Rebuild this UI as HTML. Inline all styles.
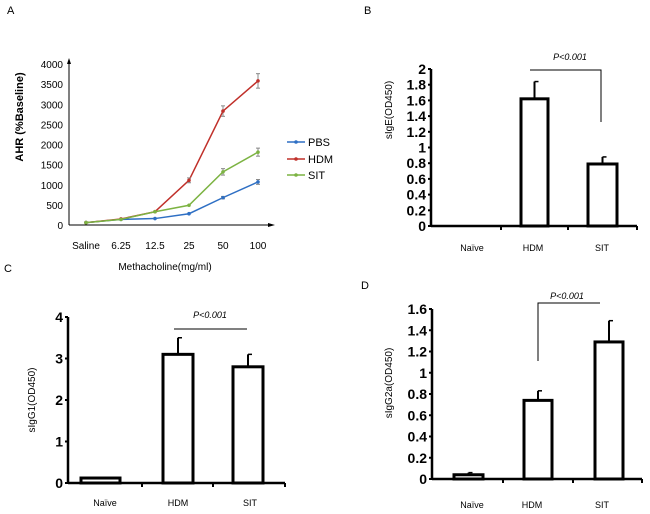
<!DOCTYPE html>
<html><head><meta charset="utf-8"><style>body{margin:0;background:#fff}svg{display:block;font-family:"Liberation Sans",sans-serif}</style></head>
<body>
<svg id="s" width="650" height="514" viewBox="0 0 650 514"></svg>
<script>
const doses=["Saline","6.25","12.5","25","50","100"];
const pbsVals=[60,140,160,280,680,1070];
const pbsErr=[0,0,0,0,30,60];
const hdmVals=[60,150,330,1110,2830,3580];
const hdmErr=[0,0,0,60,130,180];
const sitVals=[60,140,330,490,1320,1810];
const sitErr=[0,0,0,0,80,100];
const aTicks=[0,500,1000,1500,2000,2500,3000,3500,4000];
const groups=["Naïve","HDM","SIT"];
const bVals=[0,1.62,0.79];const bErr=[0,0.22,0.09];
const bTicks=["0","0.2","0.4","0.6","0.8","1","1.2","1.4","1.6","1.8","2"];
const cVals=[0.12,3.1,2.8];const cErr=[0,0.4,0.3];
const cTicks=["0","1","2","3","4"];
const dVals=[0.04,0.74,1.29];const dErr=[0.02,0.09,0.2];
const dTicks=["0","0.2","0.4","0.6","0.8","1","1.2","1.4","1.6"];
const S=document.getElementById('s');const NS="http://www.w3.org/2000/svg";
function el(t,a,txt){const e=document.createElementNS(NS,t);for(const k in a)e.setAttribute(k,a[k]);if(txt!==undefined)e.textContent=txt;S.appendChild(e);return e;}
function txt(x,y,s,o){const e=el('text',Object.assign({x:x,y:y,'font-size':11,fill:'#000'},o||{}),s);return e;}
let t;
// Panel A
t=txt(7,14,"A");
const ax0=69,ay0=225,ay1=64,ymax=4000;
const xs=[86,121,155,189,223,258];
const ya=v=>ay0-(ay0-ay1)*v/ymax;
t=el('line',{x1:ax0,y1:ay0,x2:ax0,y2:60,stroke:'#000','stroke-width':1});
el('path',{d:`M${ax0-2},64 L${ax0},58 L${ax0+2},64Z`,fill:'#000'});
t=el('line',{x1:ax0,y1:ay0,x2:272,y2:ay0,stroke:'#000','stroke-width':1});
el('path',{d:`M268,${ay0-2} L275,${ay0} L268,${ay0+2}Z`,fill:'#000'});
aTicks.forEach(v=>{t=txt(63,ya(v)+4,String(v),{'text-anchor':'end','font-size':10});});
doses.forEach((d,i)=>{t=txt(xs[i],249,d,{'text-anchor':'middle','font-size':10});});
t=txt(165,270,"Methacholine(mg/ml)",{'text-anchor':'middle','font-size':10});
t=txt(0,0,"AHR (%Baseline)",{'text-anchor':'middle','font-size':11,'font-weight':'bold',transform:'translate(23,117) rotate(-90)'});
function series(vals,err,col,name){
  const pts=vals.map((v,i)=>xs[i]+','+ya(v)).join(' ');
  t=el('polyline',{points:pts,fill:'none',stroke:col,'stroke-width':1.5});
  vals.forEach((v,i)=>{if(err[i]>0){el('line',{x1:xs[i],y1:ya(v-err[i]),x2:xs[i],y2:ya(v+err[i]),stroke:'#888','stroke-width':1});el('line',{x1:xs[i]-2,y1:ya(v+err[i]),x2:xs[i]+2,y2:ya(v+err[i]),stroke:'#888'});el('line',{x1:xs[i]-2,y1:ya(v-err[i]),x2:xs[i]+2,y2:ya(v-err[i]),stroke:'#888'});}
    t=el('circle',{cx:xs[i],cy:ya(v),r:1.8,fill:col});});
}
series(pbsVals,pbsErr,'#2e6fc4','pbs');series(hdmVals,hdmErr,'#c0302a','hdm');series(sitVals,sitErr,'#7cb342','sit');
[['PBS','#2e6fc4',142],['HDM','#c0302a',159],['SIT','#7cb342',175]].forEach(l=>{
  t=el('line',{x1:287,y1:l[2],x2:305,y2:l[2],stroke:l[1],'stroke-width':1.5});
  el('circle',{cx:296,cy:l[2],r:1.8,fill:l[1]});
  t=txt(308,l[2]+4,l[0],{'font-size':11});
});
// bar panels
function barPanel(p){
  const y=v=>p.y0-(p.y0-p.y1)*v/p.max;
  t=txt(p.lx,p.ly,p.letter);
  t=el('line',{x1:p.ax,y1:p.y0,x2:p.ax,y2:p.y1,stroke:'#000','stroke-width':2.5});
  t=el('line',{x1:p.ax,y1:p.y0,x2:p.xe,y2:p.y0,stroke:'#000','stroke-width':2.5});
  p.xt.forEach(x=>el('line',{x1:x,y1:p.y0,x2:x,y2:p.y0+4,stroke:'#000','stroke-width':2}));
  p.ticks.forEach(s=>{const v=parseFloat(s);el('line',{x1:p.ax-3,y1:y(v),x2:p.ax,y2:y(v),stroke:'#000','stroke-width':2});
    t=txt(p.ax-5,y(v)+5,s,{'text-anchor':'end','font-size':14,'font-weight':'bold','font-family':'"Liberation Sans Narrow","Liberation Sans",sans-serif'});});
  groups.forEach((g,i)=>{
    t=txt(p.lab[i],p.labY,g,{'text-anchor':'middle','font-size':9});
    const v=p.vals[i];if(v<=0)return;const [a,b]=p.bars[i];const xc=(a+b)/2;
    if(p.err[i]>0){el('line',{x1:xc,y1:y(v),x2:xc,y2:y(v+p.err[i]),stroke:'#000','stroke-width':2});el('line',{x1:xc,y1:y(v+p.err[i]),x2:xc+4,y2:y(v+p.err[i]),stroke:'#000','stroke-width':1.5});}
    t=el('rect',{x:a,y:y(v),width:b-a,height:p.y0-y(v),fill:'#fff',stroke:'#000','stroke-width':3});
  });
  t=el('path',{d:p.sig,fill:'none',stroke:'#000','stroke-width':1});
  t=txt(p.px,p.py,"P<0.001",{'text-anchor':'middle','font-size':9,'font-style':'italic'});
  t=txt(0,0,p.ytitle,{'text-anchor':'middle','font-size':10,transform:`translate(${p.tx},${p.ty}) rotate(-90)`});
}
barPanel({id:'b',letter:'B',lx:364,ly:14,ax:431,y0:226,y1:69,max:2,xe:637,xt:[501,568,637],ticks:bTicks,vals:bVals,err:bErr,
  bars:[[452,480],[521,548],[588,617]],lab:[472,533,602],labY:251,sig:'M530,70 L601,70 L601,122',px:570,py:60,ytitle:'sIgE(OD450)',tx:392,ty:110});
barPanel({id:'c',letter:'C',lx:4,ly:272,ax:68,y0:483,y1:317,max:4,xe:285,xt:[142,213,285],ticks:cTicks,vals:cVals,err:cErr,
  bars:[[81,120],[163,193],[233,263]],lab:[105,178,250],labY:506,sig:'M174,329 L247,329',px:210,py:318,ytitle:'sIgG1(OD450)',tx:35,ty:400});
barPanel({id:'d',letter:'D',lx:361,ly:289,ax:432,y0:479,y1:309,max:1.6,xe:642,xt:[503,573,642],ticks:dTicks,vals:dVals,err:dErr,
  bars:[[454,483],[524,552],[595,623]],lab:[472,532,602],labY:508,sig:'M538,361 L538,303 L600,303',px:567,py:299,ytitle:'sIgG2a(OD450)',tx:392,ty:383});
</script>
</body></html>
